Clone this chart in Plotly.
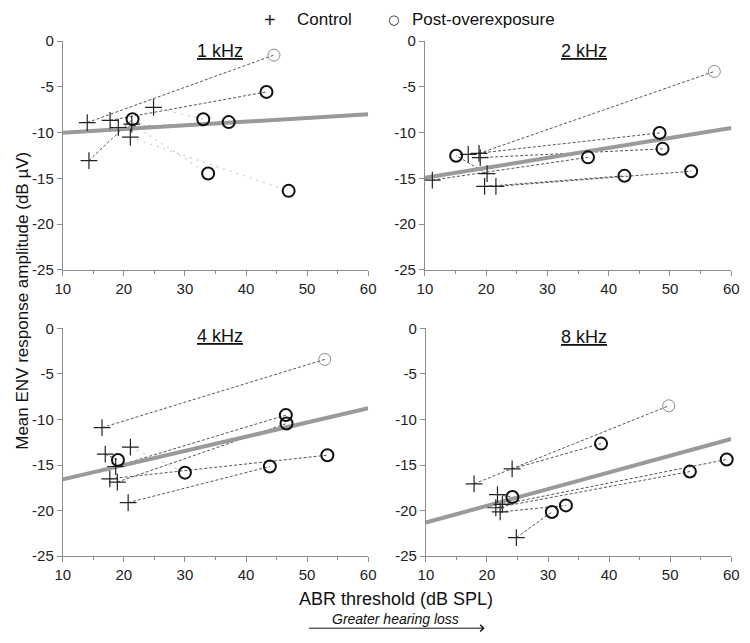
import plotly.graph_objects as go

# ---------------- data ----------------
panels = ["1 kHz", "2 kHz", "4 kHz", "8 kHz"]

ctrl_x_1k = [14.0, 17.74, 19.09, 14.28, 24.86, 21.3, 21.06]
ctrl_y_1k = [-8.9, -8.65, -9.44, -13.05, -7.23, -9.07, -10.5]
post_x_1k = [44.58, 43.35, 37.16, 21.42, 33.0, 33.8, 46.98]
post_y_1k = [-1.53, -5.55, -8.85, -8.53, -8.53, -14.47, -16.36]
fit_y_1k = [-10.0, -8.0]

ctrl_x_2k = [18.83, 17.07, 19.03, 20.15, 11.21, 19.74, 21.59]
ctrl_y_2k = [-12.27, -12.37, -12.73, -14.47, -15.18, -15.88, -15.88]
post_x_2k = [57.24, 48.31, 48.79, 15.1, 36.62, 42.57, 53.46]
post_y_2k = [-3.31, -10.03, -11.77, -12.52, -12.7, -14.72, -14.22]
fit_y_2k = [-14.94, -9.5]

ctrl_x_4k = [16.42, 16.95, 18.66, 18.93, 17.7, 20.7, 21.07]
ctrl_y_4k = [-10.9, -13.81, -15.16, -16.87, -16.51, -19.13, -13.03]
post_x_4k = [52.89, 19.03, 46.52, 46.63, 53.32, 43.9, 30.0]
post_y_4k = [-3.41, -14.45, -9.52, -10.44, -13.92, -15.16, -15.84]
fit_y_4k = [-16.58, -8.77]

ctrl_x_8k = [17.89, 24.12, 24.81, 21.72, 21.45, 22.52, 22.16]
ctrl_y_8k = [-17.07, -15.43, -22.97, -18.25, -19.69, -19.32, -20.15]
post_x_8k = [49.77, 38.68, 30.63, 24.17, 53.23, 59.26, 32.93]
post_y_8k = [-8.5, -12.65, -20.15, -18.51, -15.72, -14.39, -19.43]
fit_y_8k = [-21.31, -12.14]

fit_x = [10, 60]

x_tickvals = [10, 20, 30, 40, 50, 60]
x_ticktext = ["10", "20", "30", "40", "50", "60"]
y_tickvals = [0, -5, -10, -15, -20, -25]
y_ticktext = ["0", "-5", "-10", "-15", "-20", "-25"]

data = [
    (ctrl_x_1k, ctrl_y_1k, post_x_1k, post_y_1k, fit_y_1k),
    (ctrl_x_2k, ctrl_y_2k, post_x_2k, post_y_2k, fit_y_2k),
    (ctrl_x_4k, ctrl_y_4k, post_x_4k, post_y_4k, fit_y_4k),
    (ctrl_x_8k, ctrl_y_8k, post_x_8k, post_y_8k, fit_y_8k),
]

# styles (which pair lines are faint) kept separate from the data
faint_pairs = [
    {4, 5, 6},
    set(),
    {6},
    set(),
]

FONT = "Liberation Sans, Arial, sans-serif"
W, H = 750, 643

# panel pixel boxes: (left, right, top, bottom)
boxes = [
    (56, 368, 33, 268),
    (426, 739, 33, 268),
    (56, 368, 328, 562),
    (427, 739, 328, 562),
]

fig = go.Figure()

for i, (cx, cy, px, py, fy) in enumerate(data):
    n = i + 1
    xa = "x" if n == 1 else f"x{n}"
    ya = "y" if n == 1 else f"y{n}"
    # pair lines
    dark_x, dark_y, light_x, light_y = [], [], [], []
    for k in range(len(cx)):
        if k in faint_pairs[i]:
            light_x += [cx[k], px[k], None]
            light_y += [cy[k], py[k], None]
        else:
            dark_x += [cx[k], px[k], None]
            dark_y += [cy[k], py[k], None]
    fig.add_trace(go.Scatter(x=dark_x, y=dark_y, mode="lines", xaxis=xa, yaxis=ya,
                             line=dict(color="#555555", width=1, dash="3px,2px"),
                             showlegend=False, hoverinfo="skip"))
    fig.add_trace(go.Scatter(x=light_x, y=light_y, mode="lines", xaxis=xa, yaxis=ya,
                             line=dict(color="#cccccc", width=1.2, dash="2px,5px"),
                             showlegend=False, hoverinfo="skip"))
    # regression line
    fig.add_trace(go.Scatter(x=fit_x, y=fy, mode="lines", xaxis=xa, yaxis=ya,
                             line=dict(color="#9a9a9a", width=4),
                             showlegend=False, hoverinfo="skip"))
    # control crosses
    fig.add_trace(go.Scatter(x=cx, y=cy, mode="markers", xaxis=xa, yaxis=ya,
                             marker=dict(symbol="cross-thin", size=12,
                                         line=dict(color="#222222", width=1.2)),
                             showlegend=False, cliponaxis=False))
    # post circles: first one faint grey, others bold black
    mcol = ["#8a8a8a"] + ["#111111"] * (len(px) - 1)
    mw = [1] + [2] * (len(px) - 1)
    fig.add_trace(go.Scatter(x=px, y=py, mode="markers", xaxis=xa, yaxis=ya,
                             marker=dict(symbol="circle-open", size=12,
                                         color=mcol,
                                         line=dict(color=mcol, width=mw)),
                             showlegend=False, cliponaxis=False))

axis_common = dict(showline=True, linecolor="#8c8c8c", linewidth=1,
                   showgrid=False, zeroline=False, ticks="outside",
                   ticklen=5, tickcolor="#8c8c8c",
                   tickfont=dict(family=FONT, size=15, color="#222222"))

layout = dict(width=W, height=H, margin=dict(l=0, r=0, t=0, b=0),
              paper_bgcolor="white", plot_bgcolor="white",
              font=dict(family=FONT, color="#222222"), showlegend=False)

for i, (l, r, t, b) in enumerate(boxes):
    n = i + 1
    xk = "xaxis" if n == 1 else f"xaxis{n}"
    yk = "yaxis" if n == 1 else f"yaxis{n}"
    ya = "y" if n == 1 else f"y{n}"
    xa = "x" if n == 1 else f"x{n}"
    layout[xk] = dict(axis_common, domain=[l / W, r / W], anchor=ya,
                      range=[10, 60], tickvals=x_tickvals, ticktext=x_ticktext,
                      minor=dict(dtick=5, tick0=10, ticks="outside", ticklen=3,
                                 tickcolor="#8c8c8c"))
    layout[yk] = dict(axis_common, domain=[1 - b / H, 1 - t / H], anchor=xa,
                      range=[-25, 0], tickvals=y_tickvals, ticktext=y_ticktext)

fig.update_layout(**layout)

# panel titles (underlined)
title_pos = [(217, 43), (589, 43), (217, 336), (589, 337)]
for name, (x, y) in zip(panels, title_pos):
    fig.add_annotation(x=x / W, y=1 - y / H, xref="paper", yref="paper",
                       text=f"<u>{name}</u>", showarrow=False,
                       font=dict(family=FONT, size=18, color="#111111"),
                       xanchor="center", yanchor="middle")

# legend (drawn as text)
fig.add_annotation(x=268 / W, y=1 - 11 / H, xref="paper", yref="paper", text="+",
                   showarrow=False, font=dict(family=FONT, size=20, color="#222"),
                   xanchor="center", yanchor="middle")
fig.add_annotation(x=293 / W, y=1 - 11 / H, xref="paper", yref="paper", text="Control",
                   showarrow=False, font=dict(family=FONT, size=17, color="#111"),
                   xanchor="left", yanchor="middle")
fig.add_annotation(x=394 / W, y=1 - 11 / H, xref="paper", yref="paper", text="○",
                   showarrow=False, font=dict(family="DejaVu Sans", size=13, color="#222"),
                   xanchor="center", yanchor="middle")
fig.add_annotation(x=411 / W, y=1 - 11 / H, xref="paper", yref="paper",
                   text="Post-overexposure",
                   showarrow=False, font=dict(family=FONT, size=17, color="#111"),
                   xanchor="left", yanchor="middle")

# axis titles
fig.add_annotation(x=14 / W, y=1 - 300 / H, xref="paper", yref="paper",
                   text="Mean ENV response amplitude (dB µV)", textangle=-90,
                   showarrow=False, font=dict(family=FONT, size=17, color="#111"),
                   xanchor="center", yanchor="middle")
fig.add_annotation(x=396 / W, y=1 - 606 / H, xref="paper", yref="paper",
                   text="ABR threshold (dB SPL)",
                   showarrow=False, font=dict(family=FONT, size=18, color="#111"),
                   xanchor="center", yanchor="middle")
fig.add_annotation(x=396 / W, y=1 - 627 / H, xref="paper", yref="paper",
                   text="<i>Greater hearing loss</i>",
                   showarrow=False, font=dict(family=FONT, size=14, color="#111"),
                   xanchor="center", yanchor="middle")
# arrow under the note
fig.add_annotation(x=487 / W, y=1 - 636 / H, xref="paper", yref="paper",
                   axref="pixel", ayref="pixel", ax=-177, ay=0,
                   text="", showarrow=True, arrowhead=4, arrowsize=1.3,
                   arrowwidth=1, arrowcolor="#111")

fig.write_html("out.html",
               config={"displayModeBar": False},
               post_script="document.body.style.margin='0';"
                           "document.body.style.overflow='hidden';")
